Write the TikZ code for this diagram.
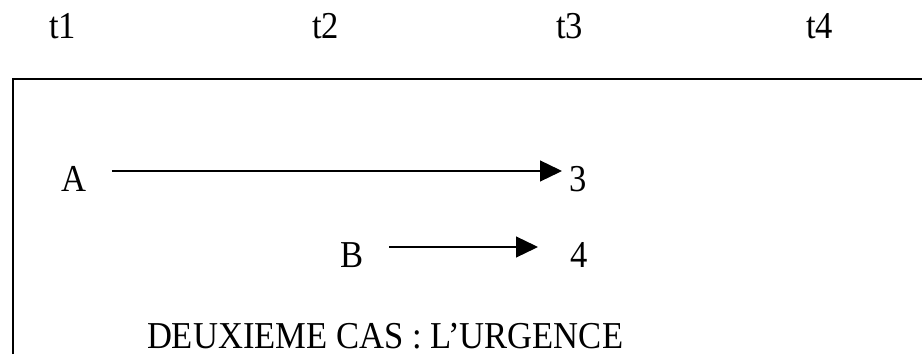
\documentclass[tikz,border=0pt]{standalone}
\usepackage{fontspec}
\setmainfont[FakeStretch=0.91]{Liberation Serif}
\usetikzlibrary{arrows.meta,calc}
\tikzset{
  lbl/.style={inner sep=0pt, outer sep=0pt, text depth=0pt, anchor=base west, font=\fontsize{38}{40}\selectfont},
  frame/.style={line width=1.5pt},
  arr/.style={line width=1.3pt, -{Triangle[length=22pt,width=21pt]}}
}
\begin{document}
\begin{tikzpicture}[x=1pt,y=1pt]
  \useasboundingbox (0,0) rectangle (922,354);
  % time marks
  \node[lbl] (t1) at (49,315) {t1};
  \node[lbl] (t2) at (312,315) {t2};
  \node[lbl] (t3) at (556,315) {t3};
  \node[lbl] (t4) at (806,315) {t4};
  % open frame
  \draw[frame] (13,0) -- (13,275) -- (922,275);
  % tasks
  \node[lbl] (A) at (61,162) {A};
  \node[lbl] (n3) at (569,162) {3};
  \node[lbl] (B) at (340,86) {B};
  \node[lbl] (n4) at (570,86) {4};
  \draw[arr] ($(A.base east)+(26,21)$) -- ($(n3.base west)+(-7,21)$);
  \draw[arr] ($(B.base east)+(26,21)$) -- ($(n4.base west)+(-32,21)$);
  % caption
  \node[lbl] (cap) at (147,6) {DEUXIEME CAS : L’URGENCE};
\end{tikzpicture}
\end{document}
